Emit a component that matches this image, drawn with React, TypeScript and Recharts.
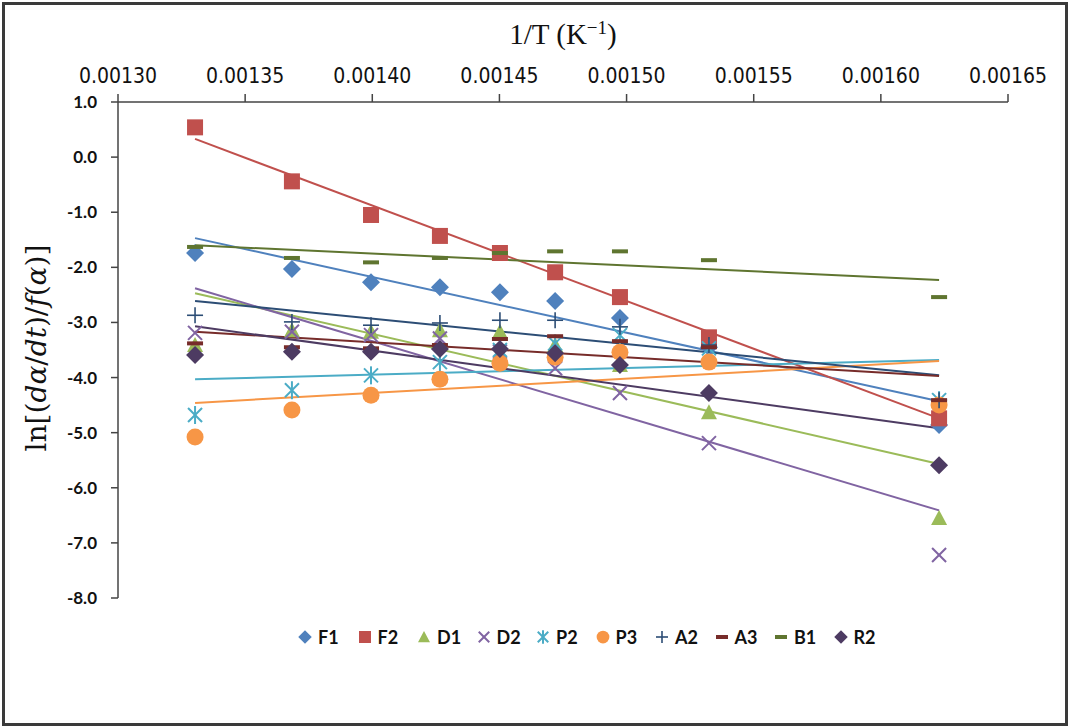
import React from 'react';
import { ComposedChart, Scatter, Line, XAxis, YAxis } from 'recharts';

// 1/T values (K^-1) for the nine temperatures
const invT = [0.0013303, 0.0013684, 0.0013995, 0.0014266, 0.0014502, 0.0014719, 0.0014974, 0.0015324, 0.0016229];

const F1 = [-1.74, -2.03, -2.27, -2.36, -2.45, -2.61, -2.92, -3.45, -4.86];
const F2 = [0.54, -0.44, -1.05, -1.43, -1.74, -2.09, -2.54, -3.27, -4.74];
const D1 = [-3.41, -3.14, -3.17, -3.14, -3.17, -3.41, -3.77, -4.63, -6.55];
const D2 = [-3.19, -3.17, -3.23, -3.29, -3.53, -3.83, -4.28, -5.19, -7.22];
const P2 = [-4.68, -4.23, -3.96, -3.72, -3.5, -3.38, -3.23, -3.47, -4.41];
const P3 = [-5.08, -4.59, -4.32, -4.03, -3.74, -3.63, -3.54, -3.72, -4.5];
const A2 = [-2.87, -2.99, -3.05, -3.01, -2.96, -2.96, -3.08, -3.41, -4.41];
const A3 = [-3.38, -3.45, -3.47, -3.41, -3.3, -3.25, -3.34, -3.45, -4.41];
const B1 = [-1.63, -1.83, -1.91, -1.83, -1.74, -1.71, -1.71, -1.87, -2.54];
const R2 = [-3.59, -3.53, -3.53, -3.48, -3.48, -3.56, -3.77, -4.28, -5.59];

// linear trendline ends, read at the first and last 1/T
const trendStart = [-1.47, 0.33, -2.47, -2.38, -4.03, -4.46, -2.61, -3.17, -1.6, -3.07];
const trendEnd = [-4.43, -4.74, -5.57, -6.41, -3.68, -3.7, -3.96, -3.97, -2.23, -4.92];

const xTicks = [0.0013, 0.00135, 0.0014, 0.00145, 0.0015, 0.00155, 0.0016, 0.00165];
const yTicks = [1, 0, -1, -2, -3, -4, -5, -6, -7, -8];

const seriesNames = ['F1', 'F2', 'D1', 'D2', 'P2', 'P3', 'A2', 'A3', 'B1', 'R2'];
const seriesValues = [F1, F2, D1, D2, P2, P3, A2, A3, B1, R2];
const colors = ['#4F81BD', '#C0504D', '#9BBB59', '#8064A2', '#4BACC6', '#F79646', '#2C4D75', '#772C2A', '#5F7530', '#4D3B62'];
const kinds = ['diamond', 'square', 'triangle', 'x', 'star', 'circle', 'plus', 'dash', 'dash', 'diamond'];

function Marker({ cx, cy, kind, color, s = 1 }: { cx: number; cy: number; kind: string; color: string; s?: number }) {
  if (cx == null || cy == null) return null;
  switch (kind) {
    case 'diamond':
      return <polygon points={`${cx},${cy - 9 * s} ${cx + 9 * s},${cy} ${cx},${cy + 9 * s} ${cx - 9 * s},${cy}`} fill={color} />;
    case 'square':
      return <rect x={cx - 8 * s} y={cy - 8 * s} width={16 * s} height={16 * s} fill={color} />;
    case 'triangle':
      return <polygon points={`${cx},${cy - 8 * s} ${cx + 8 * s},${cy + 7 * s} ${cx - 8 * s},${cy + 7 * s}`} fill={color} />;
    case 'circle':
      return <circle cx={cx} cy={cy} r={8.5 * s} fill={color} />;
    case 'x':
      return (
        <g stroke={color} strokeWidth={2}>
          <line x1={cx - 7 * s} y1={cy - 7 * s} x2={cx + 7 * s} y2={cy + 7 * s} />
          <line x1={cx - 7 * s} y1={cy + 7 * s} x2={cx + 7 * s} y2={cy - 7 * s} />
        </g>
      );
    case 'star':
      return (
        <g stroke={color} strokeWidth={2}>
          <line x1={cx - 7 * s} y1={cy - 7 * s} x2={cx + 7 * s} y2={cy + 7 * s} />
          <line x1={cx - 7 * s} y1={cy + 7 * s} x2={cx + 7 * s} y2={cy - 7 * s} />
          <line x1={cx} y1={cy - 9 * s} x2={cx} y2={cy + 9 * s} />
        </g>
      );
    case 'plus':
      return (
        <g stroke={color} strokeWidth={1.6}>
          <line x1={cx - 8 * s} y1={cy} x2={cx + 8 * s} y2={cy} />
          <line x1={cx} y1={cy - 8 * s} x2={cx} y2={cy + 8 * s} />
        </g>
      );
    case 'dash':
      return <rect x={cx - 8 * s} y={cy - 2} width={16 * s} height={4} fill={color} />;
    default:
      return null;
  }
}

const pointData = seriesValues.map((vals) => vals.map((v, i) => ({ x: invT[i], y: v })));
const trendData = seriesValues.map((_, s) => [
  { x: invT[0], y: trendStart[s] },
  { x: invT[invT.length - 1], y: trendEnd[s] },
]);

function LegendBox() {
  return (
    <div
      style={{
        position: 'absolute',
        left: 296,
        top: 626,
        display: 'flex',
        alignItems: 'center',
        fontFamily: 'Lato, sans-serif',
        fontWeight: 700,
        fontSize: 18,
        color: '#111',
      }}
    >
      {seriesNames.map((n, i) => (
        <div key={n} style={{ display: 'flex', alignItems: 'center', width: 59.5 }}>
          <svg width={18} height={22}>
            <Marker cx={9} cy={11} kind={kinds[i]} color={colors[i]} s={0.75} />
          </svg>
          <span style={{ marginLeft: 4 }}>{n}</span>
        </div>
      ))}
    </div>
  );
}

function YTitle(props: any) {
  const vb = props.viewBox || {};
  const x = (vb.x ?? 58) - 12;
  const y = (vb.y ?? 102) + (vb.height ?? 496) / 2 - 2;
  return (
    <text x={x} y={y} transform={`rotate(-90, ${x}, ${y})`} textAnchor="middle" fontFamily="'DejaVu Serif', serif" fontSize={28} fill="#111">
      <tspan>ln[(</tspan>
      <tspan fontStyle="italic">dα</tspan>
      <tspan>/</tspan>
      <tspan fontStyle="italic">dt</tspan>
      <tspan>)/</tspan>
      <tspan fontStyle="italic">f</tspan>
      <tspan>(</tspan>
      <tspan fontStyle="italic">α</tspan>
      <tspan>)]</tspan>
    </text>
  );
}

function XTitle(props: any) {
  const vb = props.viewBox || {};
  const x = (vb.x ?? 118) + (vb.width ?? 890) / 2;
  return (
    <text x={x} y={44} textAnchor="middle" fontFamily="'Liberation Serif', serif" fontSize={29} fill="#111">
      <tspan>1/T  (K</tspan>
      <tspan dy={-10} fontSize={19}>−1</tspan>
      <tspan dy={10}>)</tspan>
    </text>
  );
}

export default function App() {
  return (
    <div style={{ position: 'absolute', left: 0, top: 0, width: 1068, height: 726, background: '#fff' }}>
      <div style={{ position: 'absolute', left: 2, top: 2, width: 1060, height: 718, border: '3px solid #3a3a3a' }} />
      <ComposedChart width={1068} height={726} margin={{ top: 62, right: 60, bottom: 128, left: 58 }}>
        <XAxis
          type="number"
          dataKey="x"
          orientation="top"
          height={40}
          domain={[0.0013, 0.00165]}
          ticks={xTicks}
          allowDataOverflow
          tickFormatter={(v: number) => v.toFixed(5)}
          tick={{ fill: '#111', fontSize: 21, fontFamily: "'DejaVu Sans Condensed', 'DejaVu Sans', sans-serif" }}
          tickSize={8}
          tickMargin={11}
          axisLine={{ stroke: '#444', strokeWidth: 1.5 }}
          tickLine={{ stroke: '#444', strokeWidth: 1.5 }}
          label={<XTitle />}
        />
        <YAxis
          type="number"
          dataKey="y"
          width={60}
          domain={[-8, 1]}
          ticks={yTicks}
          allowDataOverflow
          tickFormatter={(v: number) => v.toFixed(1)}
          tick={{ fill: '#111', fontSize: 17, fontWeight: 700, fontFamily: 'Lato, sans-serif' }}
          tickSize={7}
          tickMargin={14}
          axisLine={{ stroke: '#444', strokeWidth: 1.5 }}
          tickLine={{ stroke: '#444', strokeWidth: 1.5 }}
          label={<YTitle />}
        />
        {trendData.map((d, i) => (
          <Line
            key={`t-${seriesNames[i]}`}
            data={d}
            dataKey="y"
            type="linear"
            stroke={colors[i]}
            strokeWidth={2}
            dot={false}
            activeDot={false}
            legendType="none"
            isAnimationActive={false}
          />
        ))}
        {pointData.map((d, i) => (
          <Scatter
            key={seriesNames[i]}
            name={seriesNames[i]}
            data={d}
            fill={colors[i]}
            isAnimationActive={false}
            shape={(p: any) => <Marker cx={p.cx} cy={p.cy} kind={kinds[i]} color={colors[i]} />}
          />
        ))}
      </ComposedChart>
      <LegendBox />
    </div>
  );
}
